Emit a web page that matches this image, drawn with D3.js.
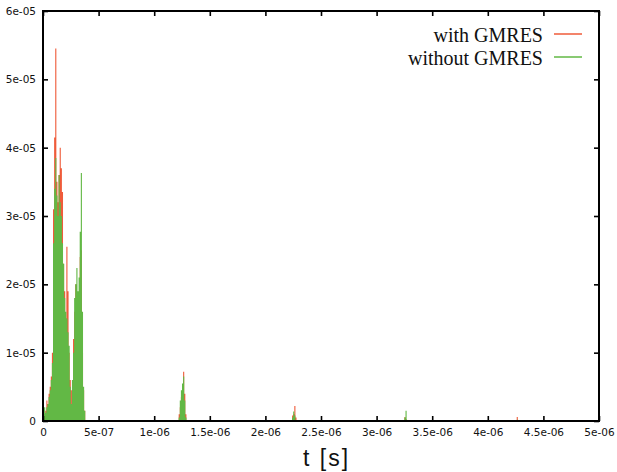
<!DOCTYPE html>
<html>
<head>
<meta charset="utf-8">
<script src="https://cdn.jsdelivr.net/npm/d3@7"></script>
<style>
  html, body { margin: 0; padding: 0; background: #fff; }
  svg { display: block; }
</style>
</head>
<body>
<script>
// Histogram of a time signal, binned every 10 ns (values in units of 1e-05)
const binWidth = 1e-8;
const valueUnit = 1e-5;

const binStart = [
  0, 1e-8, 2e-8, 3e-8, 4e-8, 5e-8, 6e-8, 7e-8, 8e-8, 9e-8,
  1.0e-7, 1.1e-7, 1.2e-7, 1.3e-7, 1.4e-7, 1.5e-7, 1.6e-7, 1.7e-7, 1.8e-7, 1.9e-7,
  2.0e-7, 2.1e-7, 2.2e-7, 2.3e-7, 2.4e-7, 2.5e-7, 2.6e-7, 2.7e-7, 2.8e-7, 2.9e-7,
  3.0e-7, 3.1e-7, 3.2e-7, 3.3e-7, 3.4e-7, 3.5e-7, 3.6e-7, 3.7e-7, 3.8e-7,
  1.22e-6, 1.23e-6, 1.24e-6, 1.25e-6, 1.26e-6, 1.27e-6, 1.28e-6,
  2.24e-6, 2.25e-6, 2.26e-6, 2.27e-6,
  3.25e-6, 3.26e-6,
  4.26e-6
];

const withGMRES = [
  0.05, 0.10, 0.15, 0.30, 0.25, 0.40, 0.50, 0.65, 1.00, 3.10,
  4.15, 5.45, 3.50, 3.20, 3.60, 4.00, 3.70, 3.35, 2.30, 1.90,
  1.50, 2.55, 1.90, 1.00, 0.60, 0.45, 0.20, 1.20, 1.60, 2.00,
  1.80, 1.40, 1.70, 2.40, 2.50, 1.00, 0.45, 0.15, 0.00,
  0.10, 0.20, 0.35, 0.50, 0.72, 0.40, 0.10,
  0.08, 0.10, 0.22, 0.05,
  0.06, 0.03,
  0.06
];

const withoutGMRES = [
  0.10, 0.20, 0.12, 0.20, 0.25, 0.35, 0.45, 0.60, 0.85, 2.60,
  3.40, 3.85, 3.30, 3.00, 3.60, 3.20, 3.00, 2.60, 2.30, 1.80,
  1.60, 1.50, 1.30, 1.10, 0.50, 0.25, 0.60, 1.00, 1.80, 2.00,
  2.24, 1.90, 2.10, 2.77, 3.63, 1.60, 0.50, 0.15, 0.00,
  0.05, 0.30, 0.45, 0.55, 0.65, 0.30, 0.05,
  0.05, 0.14, 0.08, 0.00,
  0.05, 0.15,
  0.02
];

const xTickValues = [0, 5e-7, 1e-6, 1.5e-6, 2e-6, 2.5e-6, 3e-6, 3.5e-6, 4e-6, 4.5e-6, 5e-6];
const xTickLabels = ["0", "5e-07", "1e-06", "1.5e-06", "2e-06", "2.5e-06", "3e-06", "3.5e-06", "4e-06", "4.5e-06", "5e-06"];
const yTickValues = [0, 1e-5, 2e-5, 3e-5, 4e-5, 5e-5, 6e-5];
const yTickLabels = ["0", "1e-05", "2e-05", "3e-05", "4e-05", "5e-05", "6e-05"];

const seriesNames = ["with GMRES", "without GMRES"];
const seriesColors = ["#ef5b3a", "#62b845"];

const W = 617, H = 472;
const plot = { left: 43, right: 599, top: 11, bottom: 421 };

const x = d3.scaleLinear().domain([0, 5e-6]).range([plot.left, plot.right]);
const y = d3.scaleLinear().domain([0, 6e-5]).range([plot.bottom, plot.top]);

const svg = d3.select("body").append("svg")
  .attr("width", W).attr("height", H)
  .attr("viewBox", `0 0 ${W} ${H}`);

svg.append("rect").attr("width", W).attr("height", H).attr("fill", "#fff");

// split bins into contiguous runs so each run becomes one stepped area
function runsOf(vals) {
  const runs = [];
  let cur = null;
  binStart.forEach((t, i) => {
    const prevEnd = cur ? cur[cur.length - 1][0] + binWidth : null;
    if (!cur || Math.abs(t - prevEnd) > binWidth * 0.01) {
      cur = [];
      runs.push(cur);
    }
    cur.push([t, vals[i]]);
  });
  // close each run at the end of its last bin
  runs.forEach(r => {
    const last = r[r.length - 1];
    r.push([last[0] + binWidth, last[1]]);
  });
  return runs;
}

const area = d3.area()
  .curve(d3.curveStepAfter)
  .x(d => x(d[0]))
  .y0(y(0))
  .y1(d => y(d[1] * valueUnit));

// red series first, green drawn over it
[withGMRES, withoutGMRES].forEach((vals, si) => {
  svg.append("g")
    .selectAll("path")
    .data(runsOf(vals))
    .join("path")
    .attr("fill", seriesColors[si])
    .attr("d", area);
});

const tickFont = "'DejaVu Sans', sans-serif";

function styleAxis(g) {
  g.select(".domain").remove();
  g.selectAll(".tick line").attr("stroke", "#000").attr("stroke-width", 1.6);
  g.selectAll(".tick text")
    .attr("fill", "#111")
    .style("font-family", tickFont)
    .style("font-size", "10.5px");
}

svg.append("g")
  .attr("transform", `translate(0,${plot.bottom})`)
  .call(d3.axisBottom(x).tickValues(xTickValues)
    .tickFormat((d, i) => xTickLabels[i]).tickSize(-5).tickPadding(8))
  .call(styleAxis);

svg.append("g")
  .attr("transform", `translate(0,${plot.top})`)
  .call(d3.axisTop(x).tickValues(xTickValues).tickFormat("").tickSize(-5))
  .call(styleAxis);

svg.append("g")
  .attr("transform", `translate(${plot.left},0)`)
  .call(d3.axisLeft(y).tickValues(yTickValues)
    .tickFormat((d, i) => yTickLabels[i]).tickSize(-5).tickPadding(7))
  .call(styleAxis);

svg.append("g")
  .attr("transform", `translate(${plot.right},0)`)
  .call(d3.axisRight(y).tickValues(yTickValues).tickFormat("").tickSize(-5))
  .call(styleAxis);

// plot border
svg.append("rect")
  .attr("x", plot.left).attr("y", plot.top)
  .attr("width", plot.right - plot.left).attr("height", plot.bottom - plot.top)
  .attr("fill", "none").attr("stroke", "#000").attr("stroke-width", 2);

// x-axis title
svg.append("text")
  .attr("x", 303).attr("y", 466)
  .style("font-family", "'Liberation Sans', Arial, sans-serif")
  .style("font-size", "23px")
  .style("letter-spacing", "2px")
  .attr("fill", "#111")
  .text("t [s]");

// legend
const legend = svg.append("g");
seriesNames.forEach((name, i) => {
  const ly = 34 + i * 23;
  legend.append("text")
    .attr("x", 543).attr("y", ly + 7.5)
    .attr("text-anchor", "end")
    .style("font-family", "'Liberation Serif', 'Times New Roman', serif")
    .style("font-size", "20px")
    .attr("fill", "#111")
    .text(name);
  legend.append("line")
    .attr("x1", 554).attr("x2", 582)
    .attr("y1", ly).attr("y2", ly)
    .attr("stroke", seriesColors[i]).attr("stroke-width", 1.5);
});
</script>
</body>
</html>
